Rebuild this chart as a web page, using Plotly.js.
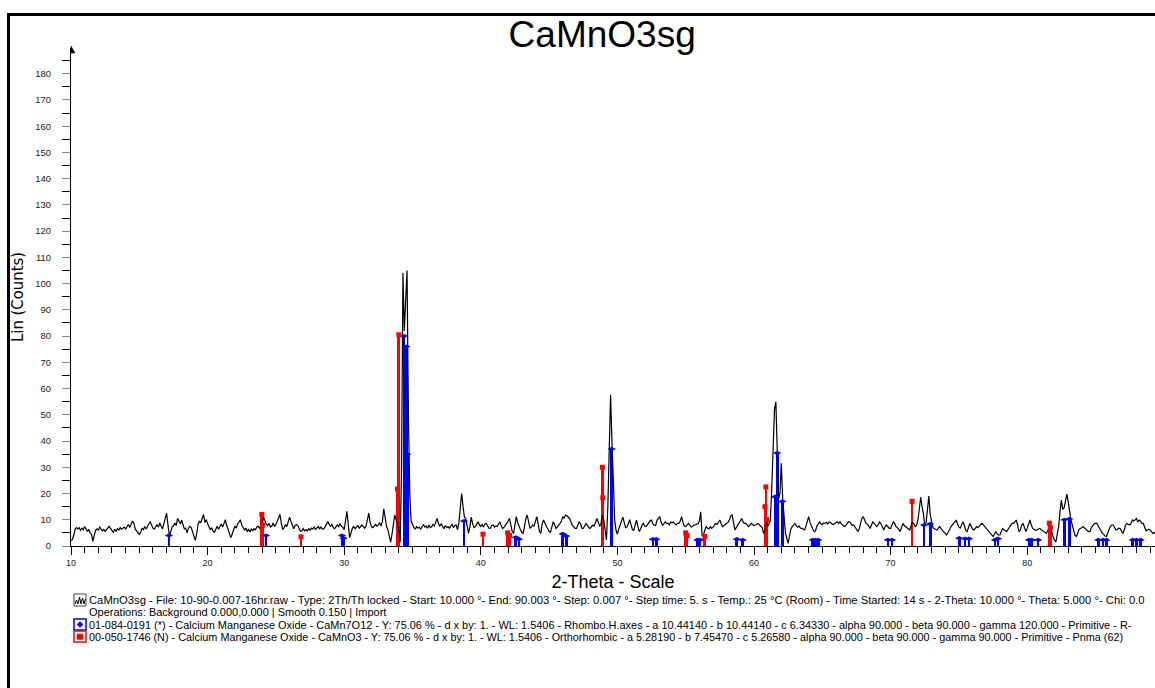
<!DOCTYPE html>
<html>
<head>
<meta charset="utf-8">
<script src="https://cdn.plot.ly/plotly-3.0.1.min.js"></script>
<style>
  html, body { margin: 0; padding: 0; background: #fff; overflow: hidden; }
  #chart { width: 1155px; height: 688px; }
  #frame { position: absolute; left: 7px; top: 13px; width: 1160px; height: 672px;
           border-left: 3px solid #000; border-top: 3px solid #000; border-bottom: 1px solid #bbb;
           pointer-events: none; }
</style>
</head>
<body>
<div id="chart"></div>
<div id="frame"></div>
<script>
// ---- measured scan (Lin counts), 2-Theta grid from 10.0 in 0.1 deg steps ----
const scanStart = 10.0;
const scanStep = 0.1;
const counts = [
 2,2.5,4,6.5,7,6.5,7,6,6.8,6.2,
 7.4,6.5,5.5,6.4,5,4.5,1.8,4,6,6.5,
 6,7.2,6.5,5.8,6.3,5.5,6.2,6.8,7.5,6.6,
 5.8,5.2,6.4,5.6,6.6,6.1,7,6.3,6.8,7.2,
 6.5,7.5,8.2,7,8.5,9.5,8.8,6.5,5.8,5,
 4.4,5.2,6.8,6.2,7.4,6.5,7.8,8.5,9.2,7.8,
 6.8,6.4,7.5,8.2,7.2,8.8,7.5,6.5,8.5,10.5,
 12.5,8,3.8,5.5,7.2,7.6,8.8,7.8,10.5,9.5,
 8.5,9.8,8.2,6.5,6.8,5,6.8,7.5,7,5.2,
 3.5,2.2,4.5,8.2,9.5,8.8,10.5,12,9,10,
 8.5,7,6.2,7,5.6,5.2,6.8,7.5,6.4,7.6,
 8.4,7.2,9,10,7.8,6.2,5,3.2,4.5,6.5,
 7.6,6.8,8.5,9.2,10,8,7,6.1,6.8,5.5,
 6.3,5.3,6.5,5.8,6.6,6.2,7.2,7.6,6.8,7.8,
 8.4,11,9.5,8.2,7.8,8.6,7.2,7.6,8.8,7.4,
 8.2,9.5,10.8,12,8.5,6.2,7,8.2,7.4,9.2,
 11,9.4,7.5,6.6,7.8,8.2,7.8,6.8,5.6,5.8,
 6.6,5.8,6.2,5.8,6.6,6,6.8,6.5,7.2,6.3,
 7,7.4,6.6,7.2,6.4,6.5,7.3,8.2,9.3,8.2,
 7.5,8.2,7,6.6,7.2,8,7.4,8.6,7.5,7.2,
 6.2,9,13.2,8,3.2,5,6.8,7.4,6.6,7.2,
 7.8,6.8,7.4,8,7.4,6.8,7.6,9.5,12.5,9,
 7.4,7,7.8,8.2,7.5,8.4,8.8,7.6,9.5,14.2,
 9.8,7.4,6.2,3.5,1.5,4.5,8,11.8,10,8.5,
 6,1.5,30,104,82,95,105,50,20,9.5,
 7.8,7,6.5,7.4,6.8,7.2,6.4,7.6,8.2,7.2,
 7.6,6.8,8,7,7.4,8.2,7.6,9,10.5,8.6,
 7.6,8.4,7.2,6.6,7.8,7,7.4,6.8,7.6,8.2,
 7,7.8,8,6.2,9,16,20,15,11,10.5,
 7.5,4.8,7.2,11,8.5,7,7.4,8.6,9.2,8,
 7.4,8.2,7.2,8.4,8.6,7.6,6.8,6.7,7.8,8,
 7.2,7.6,7.4,8.4,9.2,7.6,6.7,7.2,8.2,8.6,
 9.5,10.5,8,5.5,4.8,8,11.2,9,7.4,6.2,
 5.2,4.8,7.5,10.5,11.8,8.6,6.7,7.2,8,7.6,
 9.5,11.2,8.4,5.5,4.8,8.6,9.9,8.4,7.4,6.6,
 5.5,5.2,7.6,9.2,8.2,6.7,7.2,8.2,8.6,9.5,
 11.2,10.5,11.8,11.5,10.8,10.5,9.2,7.8,7.4,6.7,
 6.7,7.8,9.2,8.6,6.8,6.7,7.6,8.6,8,7,
 6.7,7.4,8,7.6,9,10.5,9,7.4,8.6,11.8,
 10,5,2.3,15,38,57.6,40,22,10,6,
 4.5,6.5,8,10,11,9,7,7.2,9,10,
 8,6.2,6,8.5,9.9,7.5,5.5,6.5,8,8.6,
 7.5,7.4,8.2,9,9.6,9.9,8.4,8,7.8,9.8,
 10.8,11.2,9,8,8.4,9.2,8.6,8.6,8,9.2,
 8.8,9.2,8.4,8,8.6,8.6,9.5,11.2,9,7.6,
 7.4,8.2,8.6,8,7.2,7.4,8,8,8.4,8.6,
 9.5,13,4,4.2,6,7.4,6.8,6.5,7.4,6.7,
 7.2,7.8,8.6,8.2,9.2,9.9,8.4,7.4,7.8,8.2,
 8.6,9,10,11.5,11.8,8,6.1,7,8,8.4,
 9.4,10.5,9.2,8.6,8.6,7.8,7.4,8,8.6,8.2,
 7.8,8,8.4,8.6,8,7.4,7,4.8,6,9.9,
 7.4,8.6,9.9,22,38,52,55,35,18,20,
 31.5,18,10,5,3,1,4,6.5,7.4,8,
 8.6,7.8,7.2,7.6,6.8,6.7,6.4,6.1,7.5,9.5,
 11.2,9,7.4,6.5,5.5,5.8,7.5,8.6,9.2,8.4,
 8.2,8.8,8.6,9,8.4,9.2,9,8.4,8.2,8.6,
 8.8,9.2,8.6,9.2,8.4,8,7.4,7.6,8.6,9.2,
 9.2,8.4,7.8,8,7.4,6.4,5.5,6.5,8.6,10.5,
 11.2,9.5,8.6,8.4,7.4,6.7,8,9.2,8.6,7.8,
 7.4,8.2,9.2,8.4,6.8,6.1,7.4,8,7.4,6.7,
 6.7,8.2,9.2,8.6,7.4,7,6.2,5.5,7,8.6,
 7.8,7.4,7.2,6.5,6.1,7.6,9.2,8.4,7.4,7.8,
 10,14,18.6,15,12.5,7.8,9,14,19,12,
 8.6,7,6.6,6.2,6.1,6.8,7.4,6.5,5.8,5.5,
 4.8,4.2,5.5,6.1,7.2,8,8.6,9.4,9.9,8.4,
 7.2,6.8,8,9.2,7.8,6,5.5,7,8.6,7.6,
 6.4,6.1,7,7.4,7,7.8,8.2,8.6,8,7.4,
 6.7,6.2,5.2,4.8,4.2,3.6,4.5,5.5,4.6,4.2,
 4.2,5.5,6.7,6.2,5.8,5.5,6.4,7.4,8,8.6,
 8.6,9.2,9.9,8,5.5,6,8,8.6,6.5,5.5,
 6.8,8.8,9.9,8,6.7,6.4,6,6.1,6.4,6.7,
 6.4,6,5.5,5.2,4.8,5.8,7,7.4,5,3.5,
 2.2,1.6,4.5,7.4,13,17.5,14,14.5,17,19.8,
 17,13,10,8,5.5,4,3.6,5.2,6.4,6.7,
 7,7.4,6.8,6.1,5.8,5.5,5.5,7,8,8.4,
 8.6,8.6,7.6,6.7,6,4.8,4.5,3.8,3.6,5,
 6.7,7.6,8,8,7,6.1,6.4,6.8,6.7,5.8,
 4.8,6,8,8.6,8.2,8,8.6,9.9,9.5,10.2,
 10.5,9.2,9.9,9.5,8.6,8.6,7.4,5.8,6.1,6.4,
 6.1,5.2,4.8,5,5.5
];

// ---- reference pattern 01-084-0191 (*) CaMn7O12 (blue sticks) ----
const blueTheta = [17.17,24.27,29.84,29.95,34.38,34.55,34.62,38.77,42.55,42.8,46.0,46.25,49.58,52.6,52.85,55.85,56.05,58.74,59.17,61.54,61.7,62.07,64.3,64.5,64.7,69.8,70.1,72.45,72.9,75.03,75.45,75.74,77.64,77.86,80.13,80.33,80.8,82.72,83.08,85.2,85.55,85.8,87.73,88.0,88.3];
const blueLin   = [4,4,4,3,80,76,35,9.5,3.3,2.6,4.6,3.8,37,2.6,2.6,2.3,2.3,2.6,2.3,18.8,35.4,17,2.3,2.3,2.3,2.3,2.3,8,8.4,3,2.8,2.8,2.3,2.8,2.3,2.3,2.3,10,10.3,2.3,2.3,2.3,2.3,2.3,2.3];

// ---- reference pattern 00-050-1746 (N) CaMnO3 (red sticks) ----
const redTheta = [23.97,24.02,26.84,33.9,34.0,40.16,41.97,42.1,48.9,48.93,55.0,55.1,56.4,60.8,60.87,60.95,71.57,81.62,81.7];
const redLin   = [12,8,3.5,21.7,80.5,4.5,5,4,30,18.4,5,4,3.6,15,22.5,10,17,8.7,7];

// ---- texts ----
const chartTitle = "CaMnO3sg";
const xTitle = "2-Theta - Scale";
const yTitle = "Lin (Counts)";
const legendLines = [
  "CaMnO3sg - File: 10-90-0.007-16hr.raw - Type: 2Th/Th locked - Start: 10.000 °- End: 90.003 °- Step: 0.007 °- Step time: 5. s - Temp.: 25 °C (Room) - Time Started: 14 s - 2-Theta: 10.000 °- Theta: 5.000 °- Chi: 0.0",
  "Operations: Background 0.000,0.000 | Smooth 0.150 | Import",
  "01-084-0191 (*) - Calcium Manganese Oxide - CaMn7O12 - Y: 75.06 % - d x by: 1. - WL: 1.5406 - Rhombo.H.axes - a 10.44140 - b 10.44140 - c 6.34330 - alpha 90.000 - beta 90.000 - gamma 120.000 - Primitive - R-",
  "00-050-1746 (N) - Calcium Manganese Oxide - CaMnO3 - Y: 75.06 % - d x by: 1. - WL: 1.5406 - Orthorhombic - a 5.28190 - b 7.45470 - c 5.26580 - alpha 90.000 - beta 90.000 - gamma 90.000 - Primitive - Pnma (62)"
];

// ---- geometry helpers (pixel -> paper) ----
const W = 1155, H = 688, ML = 71, MR = 0, MT = 48, MB = 142;
const PW = W - ML - MR, PH = H - MT - MB;
const px = x => (x - ML) / PW;
const py = y => (H - MB - y) / PH;

const scanTheta = counts.map((_, i) => +(scanStart + i * scanStep).toFixed(2));

const traces = [
  { type: 'scatter', mode: 'lines', x: scanTheta, y: counts,
    line: { color: '#000', width: 1.2 }, hoverinfo: 'x+y', showlegend: false },
  { type: 'bar', x: blueTheta, y: blueLin, width: 0.2,
    marker: { color: '#0000ff', line: { width: 0 } }, showlegend: false },
  { type: 'bar', x: redTheta, y: redLin, width: 0.2,
    marker: { color: '#ff0000', line: { width: 0 } }, showlegend: false },
  { type: 'scatter', mode: 'markers', x: blueTheta, y: blueLin,
    marker: { symbol: 'diamond-wide', size: 6, color: '#0000ff' }, cliponaxis: false, showlegend: false },
  { type: 'scatter', mode: 'markers', x: redTheta, y: redLin,
    marker: { symbol: 'square', size: 5, color: '#ff0000' }, cliponaxis: false, showlegend: false }
];

const font = "Liberation Sans, Arial, Helvetica, sans-serif";
const legendY = [600, 612.5, 625, 637];
const legendSize = [11.25, 11.0, 10.95, 10.85];
const annotations = legendLines.map((t, i) => ({
  text: t, xref: 'paper', yref: 'paper', x: px(87), y: py(legendY[i]),
  xanchor: 'left', yanchor: 'middle', showarrow: false,
  font: { family: font, size: legendSize[i], color: '#000' }
}));

function rect(x0, y0, x1, y1, line, fill) {
  return { type: 'rect', xref: 'paper', yref: 'paper', x0: px(x0), x1: px(x1), y0: py(y1), y1: py(y0),
           line: line, fillcolor: fill || 'rgba(0,0,0,0)' };
}
function path(pts, line, fill) {
  const d = pts.map((p, i) => (i ? 'L ' : 'M ') + px(p[0]) + ' ' + py(p[1])).join(' ') + (fill ? ' Z' : '');
  return { type: 'path', xref: 'paper', yref: 'paper', path: d, line: line, fillcolor: fill || 'rgba(0,0,0,0)' };
}

const shapes = [
  // y-axis arrow head
  path([[71, 46], [75, 53], [71, 53]], { color: '#000', width: 0.5 }, '#000'),
  // legend icon: scan
  rect(74, 594, 86, 606, { color: '#444', width: 1 }),
  path([[75, 604], [76.5, 600], [78, 604], [79.5, 597], [81, 604], [82.5, 598], [84, 604], [85.5, 599]], { color: '#000', width: 1 }),
  // legend icon: blue pattern
  rect(74, 619, 86, 630, { color: '#0000ff', width: 1.5 }, '#fff'),
  path([[80, 621.5], [83, 624.5], [80, 627.5], [77, 624.5]], { color: '#0000ff', width: 0.5 }, '#0000ff'),
  // legend icon: red pattern
  rect(74, 631, 86, 642, { color: '#ff0000', width: 1.5 }, '#fff'),
  rect(77, 634, 83, 639.5, { color: '#ff0000', width: 0.5 }, '#ff0000')
];

const layout = {
  width: W, height: H,
  margin: { l: ML, r: MR, t: MT, b: MB, pad: 0 },
  paper_bgcolor: '#fff', plot_bgcolor: '#fff',
  barmode: 'overlay', bargap: 0,
  showlegend: false,
  font: { family: font, color: '#000' },
  title: { text: chartTitle, font: { family: font, size: 37, color: '#000' },
           xref: 'paper', x: 0.49, xanchor: 'center', yref: 'container', y: 1 - 34 / H, yanchor: 'middle' },
  xaxis: {
    range: [10, 10 + (W - ML) / 13.66], autorange: false,
    showline: true, linecolor: '#000', linewidth: 1, zeroline: false, showgrid: false,
    ticks: 'outside', ticklen: 8, tickcolor: '#000', tick0: 10, dtick: 10,
    tickfont: { family: font, size: 9, color: '#222' },
    minor: { dtick: 1, ticks: 'outside', ticklen: 6, tickcolor: '#000', showgrid: false },
    title: { text: xTitle, font: { family: font, size: 18, color: '#000' }, standoff: 8 }
  },
  yaxis: {
    range: [0, 189.8], autorange: false,
    showline: true, linecolor: '#000', linewidth: 1, zeroline: false, showgrid: false,
    ticks: 'outside', ticklen: 8, tickcolor: '#888', tick0: 0, dtick: 10,
    tickfont: { family: font, size: 9.5, color: '#222' },
    ticklabelstandoff: 9,
    minor: { dtick: 5, ticks: 'outside', ticklen: 8, tickcolor: '#000', showgrid: false },
    title: { text: yTitle, font: { family: "Liberation Sans Narrow, DejaVu Sans Condensed, Liberation Sans, Arial", size: 16.5, color: '#000' }, standoff: 7 }
  },
  annotations: annotations,
  shapes: shapes
};

Plotly.newPlot('chart', traces, layout, { displayModeBar: false, staticPlot: true });
</script>
</body>
</html>
